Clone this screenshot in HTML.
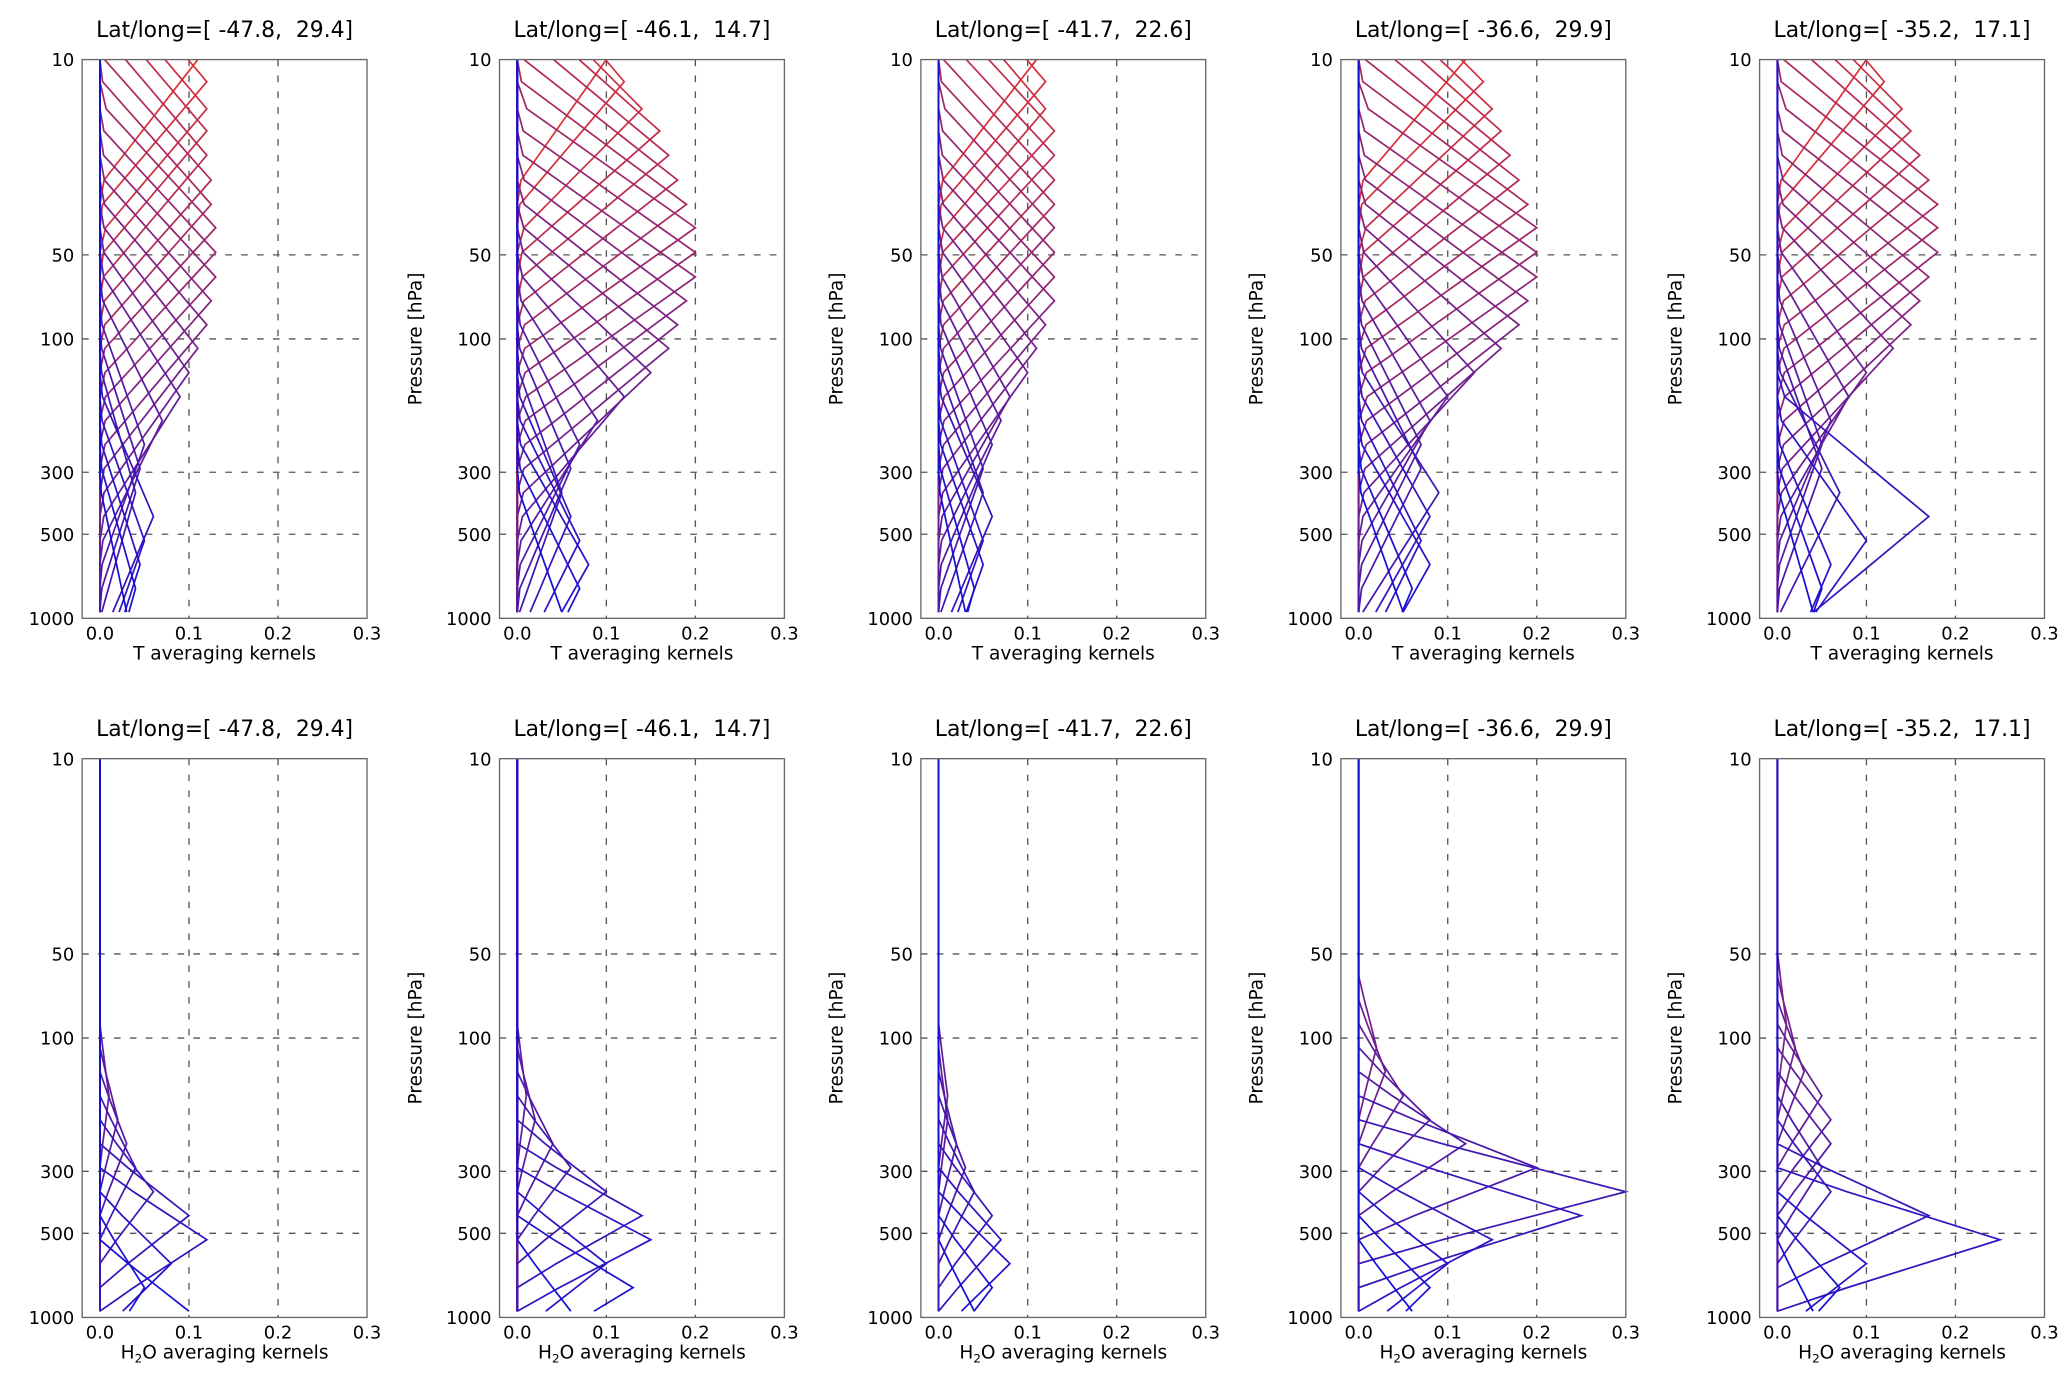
<!DOCTYPE html>
<html><head><meta charset="utf-8">
<style>
html,body{margin:0;padding:0;background:#fff;}
svg{display:block;font-family:"DejaVu Sans","Liberation Sans",sans-serif;}
</style></head>
<body>
<svg id="fig" width="2067" height="1377" viewBox="0 0 1560 1040" preserveAspectRatio="none" xmlns="http://www.w3.org/2000/svg"></svg>
<script>
// ---- data ----
const titles = ["Lat/long=[ -47.8,  29.4]","Lat/long=[ -46.1,  14.7]","Lat/long=[ -41.7,  22.6]","Lat/long=[ -36.6,  29.9]","Lat/long=[ -35.2,  17.1]"];
const levels = [10,12,15,18,22,27,33,40,49,60,73,89,108,132,161,196,239,291,355,432,527,642,782,950];
const yTicks = [10,50,100,300,500,1000];
const yTickLabels = ["10","50","100","300","500","1000"];
const xTicks = [0.0,0.1,0.2,0.3];
const xTickLabels = ["0.0","0.1","0.2","0.3"];
const tPeaks1 = [0.11,0.12,0.12,0.12,0.12,0.125,0.125,0.13,0.13,0.13,0.125,0.12,0.11,0.10,0.09,0.07,0.05,0.045,0.04,0.06,0.05,0.045,0.04,0.03];
const tPeaks2 = [0.10,0.12,0.14,0.16,0.17,0.18,0.19,0.20,0.20,0.20,0.19,0.18,0.17,0.15,0.12,0.09,0.07,0.06,0.05,0.06,0.07,0.08,0.07,0.05];
const tPeaks3 = [0.11,0.12,0.12,0.13,0.13,0.13,0.13,0.13,0.13,0.13,0.13,0.12,0.11,0.10,0.08,0.07,0.06,0.05,0.05,0.06,0.05,0.05,0.04,0.03];
const tPeaks4 = [0.12,0.14,0.15,0.16,0.17,0.18,0.19,0.20,0.20,0.20,0.19,0.18,0.16,0.13,0.10,0.08,0.07,0.07,0.09,0.08,0.07,0.08,0.06,0.05];
const tPeaks5 = [0.10,0.12,0.14,0.15,0.16,0.17,0.18,0.18,0.18,0.17,0.16,0.15,0.13,0.10,0.08,0.06,0.05,0.05,0.07,0.17,0.10,0.06,0.05,0.04];
const hPeaks1 = [0,0,0,0,0,0,0,0,0,0,0,0,0,0,0.01,0.02,0.03,0.04,0.06,0.10,0.12,0.08,0.05,0.10];
const hPeaks2 = [0,0,0,0,0,0,0,0,0,0,0,0,0,0,0.01,0.02,0.04,0.06,0.10,0.14,0.15,0.10,0.13,0.06];
const hPeaks3 = [0,0,0,0,0,0,0,0,0,0,0,0,0,0,0.01,0.01,0.02,0.03,0.04,0.06,0.07,0.08,0.06,0.04];
const hPeaks4 = [0,0,0,0,0,0,0,0,0,0,0,0,0.02,0.03,0.05,0.08,0.12,0.20,0.30,0.25,0.15,0.10,0.08,0.06];
const hPeaks5 = [0,0,0,0,0,0,0,0,0,0,0,0.01,0.02,0.03,0.05,0.06,0.06,0.05,0.06,0.17,0.25,0.10,0.07,0.04];
const tSets = [tPeaks1,tPeaks2,tPeaks3,tPeaks4,tPeaks5];
const hSets = [hPeaks1,hPeaks2,hPeaks3,hPeaks4,hPeaks5];

// ---- layout ----
const NS="http://www.w3.org/2000/svg";
const svg=document.getElementById('fig');
const colX=[62,377,695,1012,1328], axW=215;
const rows=[{top:45,bot:467,sets:tSets,label:"T averaging kernels",w:0.45,name:"t"},
            {top:573,bot:995,sets:hSets,label:"H2O averaging kernels",w:0.25,name:"h2o"}];
const XMIN=-0.02, XMAX=0.3;
function el(tag,attrs,parent){const e=document.createElementNS(NS,tag);for(const k in attrs)e.setAttribute(k,attrs[k]);(parent||svg).appendChild(e);return e;}

rows.forEach((row,ri)=>{
  colX.forEach((x0,ci)=>{
    const g=el('g',{});
    
    
    const xs=v=>x0+(v-XMIN)/(XMAX-XMIN)*axW;
    const ys=p=>row.top+(Math.log10(p)-1)/2*(row.bot-row.top);
    const t=el('text',{x:x0+axW/2,y:row.top-17,'text-anchor':'middle','font-size':16.5,fill:'#000'},g);
    t.textContent=titles[ci];
    
    
    t.setAttribute('xml:space','preserve');
    t.style.whiteSpace='pre';
    [0.1,0.2].forEach(v=>{const l=el('line',{x1:xs(v),x2:xs(v),y1:row.top,y2:row.bot,stroke:'#555','stroke-width':1,'stroke-dasharray':'5,7'},g);
      });
    [50,100,300,500].forEach(p=>{const l=el('line',{x1:x0,x2:x0+axW,y1:ys(p),y2:ys(p),stroke:'#555','stroke-width':1,'stroke-dasharray':'5,7'},g);
      });
    const peaks=row.sets[ci], N=levels.length;
    peaks.forEach((a,i)=>{
      const f=i/(N-1);
      const r=Math.round(220-200*f), gg=Math.round(50-35*f), b=Math.round(55+160*f);
      const pts=levels.map((p)=>{
        const d=Math.abs(Math.log10(p)-Math.log10(levels[i]));
        const v=a*Math.max(0,1-d/row.w);
        return xs(v).toFixed(1)+','+ys(p).toFixed(1);
      });
      const pl=el('polyline',{points:pts.join(' '),fill:'none',stroke:`rgb(${r},${gg},${b})`,'stroke-width':1.3},g);
      
      
    });
    const fr=el('rect',{x:x0,y:row.top,width:axW,height:row.bot-row.top,fill:'none',stroke:'#666','stroke-width':1},g);
    
    yTicks.forEach((p,k)=>{const tx=el('text',{x:x0-6,y:ys(p)+5,'text-anchor':'end','font-size':13.5,fill:'#000'},g);
      tx.textContent=yTickLabels[k];});
    xTicks.forEach((v,k)=>{const tx=el('text',{x:xs(v),y:row.bot+16,'text-anchor':'middle','font-size':13.5,fill:'#000'},g);
      tx.textContent=xTickLabels[k];});
    const xl=el('text',{x:x0+axW/2,y:row.bot+31,'text-anchor':'middle','font-size':14,fill:'#000'},g);
    if(ri===0){xl.textContent=row.label;}
    else{xl.innerHTML='H<tspan font-size="9" dy="3">2</tspan><tspan dy="-3">O averaging kernels</tspan>';}
    
    if(ci>0){const cy=(row.top+row.bot)/2;
      const yl=el('text',{x:x0-59,y:cy,'text-anchor':'middle','font-size':14,fill:'#000',transform:`rotate(-90 ${x0-59} ${cy})`},g);
      yl.textContent='Pressure [hPa]';}
  });
});
</script>
</body></html>
